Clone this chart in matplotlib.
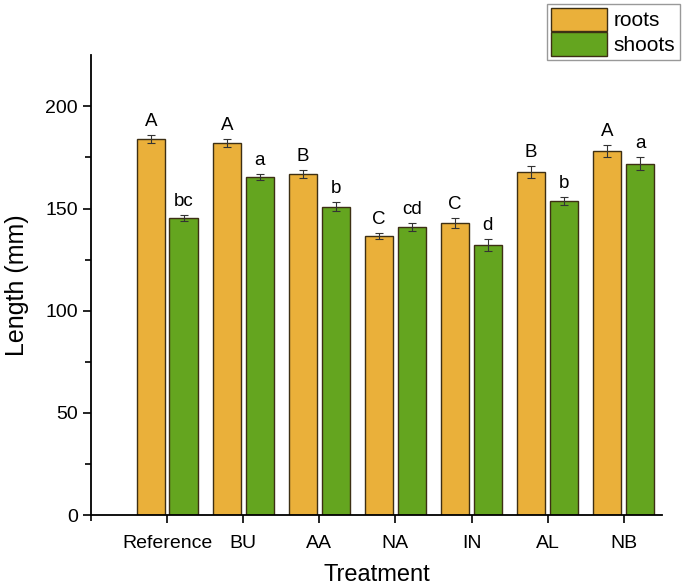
import matplotlib
matplotlib.use("Agg")
import matplotlib.pyplot as plt
import numpy as np
from matplotlib.patches import Patch

plt.rcParams["font.family"] = ["Liberation Sans", "DejaVu Sans"]

# data
treatments = ["Reference", "BU", "AA", "NA", "IN", "AL", "NB"]
roots = [184, 182, 167, 136.5, 143, 168, 178]
shoots = [145.5, 165.5, 151, 141, 132, 153.5, 172]
roots_err = [2, 2, 2, 1.5, 2.5, 3, 3]
shoots_err = [1.5, 1.5, 2, 2, 3, 2, 3]
roots_letters = ["A", "A", "B", "C", "C", "B", "A"]
shoots_letters = ["bc", "a", "b", "cd", "d", "b", "a"]

col_roots = "#EAB03A"
col_shoots = "#64A51F"
edge = "#3d2f14"

fig = plt.figure(figsize=(6.85, 5.88), dpi=100)
ax = fig.add_axes([0.133, 0.124, 0.833, 0.782])

x = np.arange(len(treatments))
w = 0.37
off = 0.215

ax.bar(x - off, roots, w, color=col_roots, edgecolor=edge, linewidth=1.0,
       yerr=roots_err, capsize=3, error_kw=dict(elinewidth=0.8, capthick=0.8, ecolor="#333333"))
ax.bar(x + off, shoots, w, color=col_shoots, edgecolor=edge, linewidth=1.0,
       yerr=shoots_err, capsize=3, error_kw=dict(elinewidth=0.8, capthick=0.8, ecolor="#333333"))

for i in range(len(treatments)):
    ax.text(x[i] - off, roots[i] + roots_err[i] + 2.5, roots_letters[i],
            ha="center", va="bottom", fontsize=13.5)
    ax.text(x[i] + off, shoots[i] + shoots_err[i] + 2.5, shoots_letters[i],
            ha="center", va="bottom", fontsize=13.5)

ax.set_xlim(-1, 6.5)
ax.set_ylim(0, 225)
ax.set_xticks(x)
ax.set_xticklabels(treatments, fontsize=14)
ax.set_yticks([0, 50, 100, 150, 200])
ax.set_yticks(np.arange(25, 225, 50), minor=True)
ax.set_xticks([-1], minor=True)
ax.tick_params(axis="y", labelsize=14, direction="out", length=6, width=1.2)
ax.tick_params(axis="x", direction="out", length=6, width=1.2, pad=8)
ax.tick_params(which="minor", length=4, width=1.2)

ax.spines["top"].set_visible(False)
ax.spines["right"].set_visible(False)
ax.spines["left"].set_linewidth(1.3)
ax.spines["bottom"].set_linewidth(1.3)

ax.set_xlabel("Treatment", fontsize=17, labelpad=9)
ax.set_ylabel("Length (mm)", fontsize=18, labelpad=12)

handles = [Patch(facecolor=col_roots, edgecolor=edge, label="roots"),
           Patch(facecolor=col_shoots, edgecolor=edge, label="shoots")]
fig.legend(handles=handles, loc="upper right", bbox_to_anchor=(0.992, 0.994),
           fontsize=15, fancybox=False, edgecolor="#999999", framealpha=1,
           handlelength=2.7, handleheight=1.35, handletextpad=0.3,
           labelspacing=0.05, borderpad=0.2, borderaxespad=0)

fig.savefig("out.png", dpi=100)
